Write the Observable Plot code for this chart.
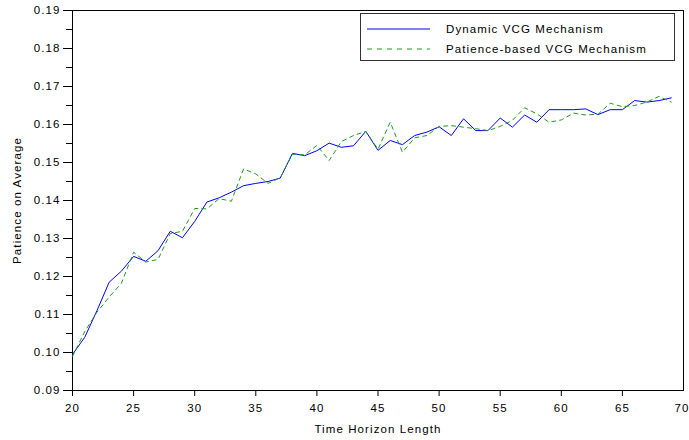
<!DOCTYPE html>
<html>
<head>
<meta charset="utf-8">
<script src="https://cdn.jsdelivr.net/npm/d3@7"></script>
<script src="https://cdn.jsdelivr.net/npm/@observablehq/plot@0.6"></script>
<style>
  html, body { margin: 0; padding: 0; background: white; }
  #wrap { position: relative; width: 689px; height: 440px; }
  #legend {
    position: absolute; left: 360px; top: 13px; width: 313px; height: 46px;
    border: 1px solid #333; background: white;
    font-family: "Liberation Sans", Arial, sans-serif; font-size: 11.5px; letter-spacing: 1.1px;
  }
  .row { position: absolute; left: 0; height: 16px; display: flex; align-items: center; }
  .row svg { margin-left: 6px; margin-right: 16px; }
</style>
</head>
<body>
<div id="wrap"><div id="legend"></div></div>
<script>
const timeHorizon = [20,21,22,23,24,25,26,27,28,29,30,31,32,33,34,35,36,37,38,39,40,41,42,43,44,45,46,47,48,49,50,51,52,53,54,55,56,57,58,59,60,61,62,63,64,65,66,67,68,69];
const dynamicVCG = [0.0995,0.1040,0.1110,0.1185,0.1214,0.1253,0.1240,0.1268,0.1319,0.1302,
                    0.1345,0.1396,0.1407,0.1422,0.1439,0.1445,0.1450,0.1459,0.1524,0.1518,
                    0.1531,0.1551,0.1540,0.1544,0.1582,0.1532,0.1558,0.1547,0.1571,0.1580,
                    0.1594,0.1571,0.1615,0.1584,0.1584,0.1617,0.1593,0.1625,0.1606,0.1639,
                    0.1639,0.1639,0.1641,0.1626,0.1639,0.1639,0.1663,0.1659,0.1663,0.1670];
const patienceVCG = [0.0990,0.1055,0.1106,0.1146,0.1182,0.1264,0.1238,0.1245,0.1313,0.1319,
                     0.1379,0.1378,0.1405,0.1398,0.1483,0.1470,0.1445,0.1460,0.1522,0.1520,
                     0.1545,0.1505,0.1555,0.1571,0.1582,0.1535,0.1606,0.1527,0.1565,0.1571,
                     0.1595,0.1597,0.1593,0.1589,0.1584,0.1595,0.1611,0.1644,0.1628,0.1606,
                     0.1612,0.1630,0.1625,0.1627,0.1656,0.1647,0.1650,0.1659,0.1674,0.1659];
const xTicks = [20,25,30,35,40,45,50,55,60,65,70];
const yTicks = [0.09,0.10,0.11,0.12,0.13,0.14,0.15,0.16,0.17,0.18,0.19];
const yMinorTicks = [0.095,0.105,0.115,0.125,0.135,0.145,0.155,0.165,0.175,0.185];
const seriesNames = ["Dynamic VCG Mechanism", "Patience-based VCG Mechanism"];
const seriesColors = ["#0000ff", "#1f9a1f"];

const rows = timeHorizon.map((t, i) => ({t, a: dynamicVCG[i], b: patienceVCG[i]}));

const chart = Plot.plot({
  width: 689, height: 440,
  marginLeft: 72, marginRight: 6, marginTop: 10, marginBottom: 50,
  style: {fontFamily: "Liberation Sans, Arial, sans-serif", fontSize: "11.5px", letterSpacing: "1.1px", color: "black", background: "white"},
  x: {domain: [20, 70]},
  y: {domain: [0.09, 0.19]},
  marks: [
    Plot.frame({stroke: "black"}),
    Plot.axisY(yMinorTicks, {tickSize: 6, tickFormat: () => "", label: null}),
    Plot.axisY(yTicks, {tickSize: 9, tickPadding: 3, tickFormat: d3.format(".2f"),
      label: "Patience on Average", labelAnchor: "center", labelArrow: "none", labelOffset: 60}),
    Plot.axisX(xTicks.slice(0, -1), {tickSize: 6, tickPadding: 7, tickFormat: d => String(d),
      label: "Time Horizon Length", labelAnchor: "center", labelArrow: "none", labelOffset: 42}),
    Plot.axisX(xTicks.slice(-1), {tickSize: 6, tickPadding: 7, tickFormat: d => String(d),
      textAnchor: "end", dx: 6, label: null}),
    Plot.line(rows, {x: "t", y: "a", stroke: seriesColors[0], strokeWidth: 1}),
    Plot.line(rows, {x: "t", y: "b", stroke: seriesColors[1], strokeWidth: 1, strokeDasharray: "4,4"})
  ]
});
document.getElementById("wrap").prepend(chart);

const legend = document.getElementById("legend");
seriesNames.forEach((name, i) => {
  const row = document.createElement("div");
  row.className = "row";
  row.style.top = (7 + i * 20) + "px";
  const dash = i === 1 ? ' stroke-dasharray="5,5"' : '';
  row.innerHTML = `<svg width="63" height="4"><line x1="0" y1="2" x2="63" y2="2" stroke="${seriesColors[i]}" stroke-width="1"${dash}/></svg><span>${name}</span>`;
  legend.appendChild(row);
});
</script>
</body>
</html>
